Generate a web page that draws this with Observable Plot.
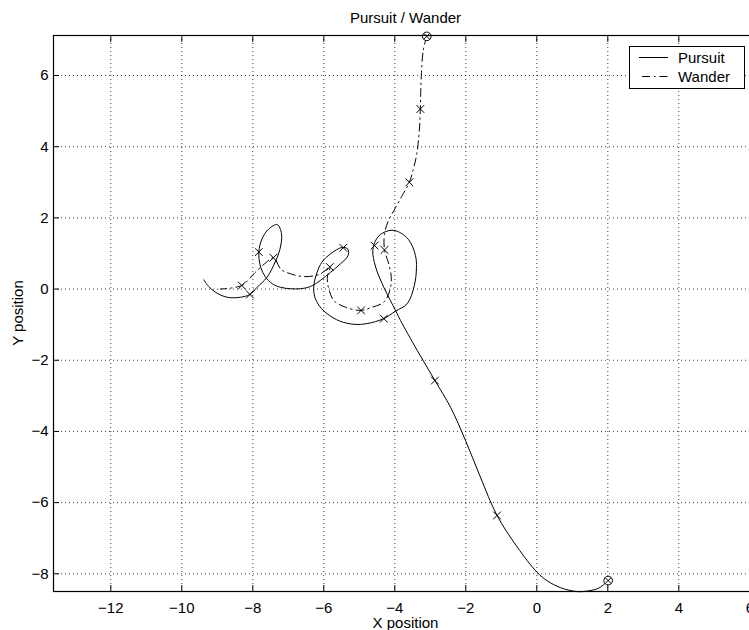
<!DOCTYPE html>
<html><head><meta charset="utf-8">
<script src="https://cdn.jsdelivr.net/npm/d3@7"></script>
<script src="https://cdn.jsdelivr.net/npm/@observablehq/plot@0.6"></script>
<style>
html,body{margin:0;padding:0;overflow:hidden;background:#fff;}
#chart svg{display:block;}
</style></head><body><div id="chart"></div>
<script>
// ---- data ----
const pursuitX = [2.01, 1.75, 1.45, 1.14, 0.67, 0.30, 0.00, -0.55, -1.12, -1.59, -2.01, -2.43, -2.87, -3.37, -3.84, -3.98, -4.31, -4.54, -4.62, -4.52, -4.35, -4.02, -3.62, -3.42, -3.39, -3.45, -3.65, -3.98, -4.31, -4.78, -5.15, -5.55, -5.91, -6.12, -6.26, -6.28, -6.19, -6.05, -5.81, -5.48, -5.32, -5.32, -5.53, -5.81, -6.10, -6.38, -6.66, -6.94, -7.22, -7.45, -7.65, -7.78, -7.83, -7.74, -7.55, -7.31, -7.19, -7.24, -7.37, -7.60, -7.88, -8.08, -8.35, -8.72, -9.05, -9.25, -9.38];
const pursuitY = [-8.19, -8.40, -8.48, -8.50, -8.39, -8.20, -7.95, -7.25, -6.36, -5.28, -4.25, -3.32, -2.57, -1.72, -0.88, -0.60, 0.05, 0.62, 1.08, 1.40, 1.57, 1.65, 1.40, 0.95, 0.60, 0.10, -0.41, -0.62, -0.83, -0.97, -0.99, -0.90, -0.69, -0.48, -0.20, 0.10, 0.47, 0.76, 0.99, 1.17, 1.12, 0.93, 0.71, 0.47, 0.24, 0.07, 0.01, 0.01, 0.05, 0.15, 0.35, 0.62, 1.04, 1.41, 1.69, 1.81, 1.55, 1.10, 0.76, 0.33, 0.05, -0.15, -0.23, -0.23, -0.09, 0.08, 0.26];

const wanderX = [-3.10, -3.20, -3.25, -3.27, -3.28, -3.31, -3.38, -3.47, -3.59, -3.79, -4.00, -4.18, -4.29, -4.29, -4.17, -4.10, -4.14, -4.31, -4.64, -4.95, -5.39, -5.72, -5.86, -5.90, -5.83, -6.10, -6.56, -6.94, -7.20, -7.42, -7.62, -7.97, -8.20, -8.31, -8.60, -8.92];
const wanderY = [7.10, 6.70, 6.05, 5.50, 5.06, 4.45, 3.80, 3.40, 3.00, 2.63, 2.25, 1.92, 1.55, 1.10, 0.71, 0.33, -0.04, -0.37, -0.51, -0.60, -0.51, -0.32, 0.01, 0.33, 0.62, 0.42, 0.35, 0.43, 0.55, 0.88, 0.75, 0.43, 0.18, 0.10, 0.03, 0.00];

const pursuitMarkX = [-1.12, -2.87, -4.31, -4.57, -5.45, -7.83, -8.08];
const pursuitMarkY = [-6.36, -2.57, -0.83, 1.22, 1.16, 1.04, -0.15];
const wanderMarkX = [-3.28, -3.59, -4.29, -4.95, -5.83, -7.42, -8.31];
const wanderMarkY = [5.06, 3.00, 1.10, -0.60, 0.62, 0.88, 0.10];

const startX = [2.01, -3.10];
const startY = [-8.19, 7.10];

const xTicks = [-12, -10, -8, -6, -4, -2, 0, 2, 4, 6];
const yTicks = [-8, -6, -4, -2, 0, 2, 4, 6];
const seriesNames = ["Pursuit", "Wander"];
const titleText = "Pursuit / Wander";
const xLabel = "X position";
const yLabel = "Y position";

// ---- build tables ----
const toPts = (xs, ys) => xs.map((x, i) => ({x, y: ys[i]}));
const pursuit = toPts(pursuitX, pursuitY);
const wander = toPts(wanderX, wanderY);
const marks = toPts(pursuitMarkX, pursuitMarkY).concat(toPts(wanderMarkX, wanderMarkY));
const starts = toPts(startX, startY);
const fmt = d => d < 0 ? "\u2212" + Math.abs(d) : String(d);
const FONT = "'Liberation Sans', Arial, Helvetica, sans-serif";
const WANDER_DASH = "8,4,1.5,4";

const plot = Plot.plot({
  width: 749, height: 630,
  marginLeft: 53, marginRight: -9, marginTop: 35, marginBottom: 39,
  style: {fontFamily: FONT, fontSize: "15px", background: "white", color: "#000"},
  x: {domain: [-13.614, 6.245], label: null},
  y: {domain: [-8.497, 7.124], label: null},
  marks: [
    Plot.gridX(xTicks, {stroke: "#000", strokeOpacity: 0.75, strokeDasharray: "1,3"}),
    Plot.gridY(yTicks, {stroke: "#000", strokeOpacity: 0.75, strokeDasharray: "1,3"}),
    Plot.line(pursuit, {x: "x", y: "y", curve: "catmull-rom", stroke: "#000", strokeWidth: 1}),
    Plot.line(wander, {x: "x", y: "y", curve: "catmull-rom", stroke: "#000", strokeWidth: 1, strokeDasharray: WANDER_DASH}),
    Plot.dot(marks, {x: "x", y: "y", symbol: "times", r: 3.6, stroke: "#000", strokeWidth: 1}),
    Plot.dot(starts, {x: "x", y: "y", symbol: "circle", r: 4.3, stroke: "#000", fill: "white", strokeWidth: 1}),
    Plot.dot(starts, {x: "x", y: "y", symbol: "times", r: 2.8, stroke: "#000", strokeWidth: 1}),
    Plot.frame({stroke: "#000", strokeWidth: 1.2}),
    Plot.axisX(xTicks, {anchor: "bottom", tickSize: 0, tickPadding: 11, tickFormat: fmt, label: null, fontSize: 15}),
    Plot.axisY(yTicks, {anchor: "left", tickSize: 0, tickPadding: 5, tickFormat: fmt, label: null, fontSize: 15}),
    Plot.axisX(xTicks, {anchor: "bottom", tickSize: -6, tickFormat: () => "", label: null}),
    Plot.axisX(xTicks, {anchor: "top", tickSize: -6, tickFormat: () => "", label: null}),
    Plot.axisY(yTicks, {anchor: "left", tickSize: -6, tickFormat: () => "", label: null})
  ]
});

document.getElementById("chart").appendChild(plot);

// ---- title, axis labels, legend ----
const svg = d3.select(plot);
const xs = plot.scale("x").range;
const cx = (xs[0] + xs[1]) / 2;
svg.append("text").attr("x", cx).attr("y", 23).attr("text-anchor", "middle")
  .attr("font-family", FONT).attr("font-size", 15).attr("fill", "#000").text(titleText);
svg.append("text").attr("x", cx).attr("y", 628).attr("text-anchor", "middle")
  .attr("font-family", FONT).attr("font-size", 15).attr("fill", "#000").text(xLabel);
svg.append("text").attr("transform", "translate(23,313) rotate(-90)").attr("text-anchor", "middle")
  .attr("font-family", FONT).attr("font-size", 15).attr("fill", "#000").text(yLabel);

const lg = svg.append("g").attr("font-family", FONT).attr("font-size", 15).attr("text-anchor", "start");
lg.append("rect").attr("x", 629.5).attr("y", 46.5).attr("width", 115).attr("height", 42)
  .attr("fill", "white").attr("stroke", "#000").attr("stroke-width", 1);
seriesNames.forEach((name, i) => {
  const yy = 57.5 + i * 19;
  lg.append("line").attr("x1", 639).attr("x2", 668).attr("y1", yy).attr("y2", yy)
    .attr("stroke", "#000").attr("stroke-width", 1)
    .attr("stroke-dasharray", i === 1 ? WANDER_DASH : null)
    .attr("stroke-dashoffset", i === 1 ? -3 : null);
  lg.append("text").attr("x", 678).attr("y", yy + 5.5).attr("text-anchor", "start")
    .attr("fill", "#000").text(name);
});
</script>
</body></html>
